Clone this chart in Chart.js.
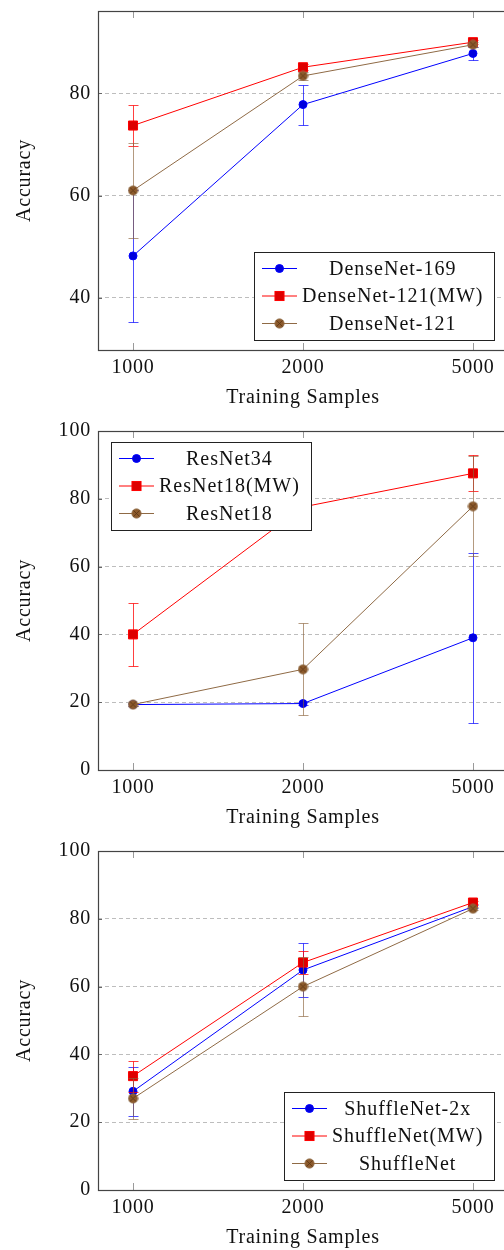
<!DOCTYPE html>
<html>
<head>
<meta charset="utf-8">
<script src="https://cdn.jsdelivr.net/npm/chart.js@4.4.1/dist/chart.umd.min.js"></script>
<style>
	body { margin: 0; background: #fff; overflow: hidden; }
	.wrap { width: 504px; height: 420px; overflow: hidden; }
	canvas { display: block; }
</style>
</head>
<body>
<div class="wrap"><canvas id="dense" width="520" height="420"></canvas></div>
<div class="wrap"><canvas id="resnet" width="520" height="420"></canvas></div>
<div class="wrap"><canvas id="shuffle" width="520" height="420"></canvas></div>
<script>
// training samples on the x axis
const samples = ['1000', '2000', '5000']

// DenseNet panel
const denseNet169 = [48.2, 77.8, 87.8]
const denseNet169Err = [12.9, 3.9, 1.3]
const denseNet121MW = [73.7, 85.1, 90.0]
const denseNet121MWErr = [4.1, 0.6, 0.4]
const denseNet121 = [61.0, 83.4, 89.5]
const denseNet121Err = [9.2, 0.8, 0.5]
const denseTicks = [40, 60, 80]

// ResNet panel
const resNet34 = [19.3, 19.6, 39.0]
const resNet34Err = [0.5, 0.5, 25.1]
const resNet18MW = [40.0, 77.6, 87.5]
const resNet18MWErr = [9.2, 3.0, 5.3]
const resNet18 = [19.3, 29.7, 77.8]
const resNet18Err = [0.5, 13.6, 14.7]
const resTicks = [0, 20, 40, 60, 80, 100]

// ShuffleNet panel
const shuffleNet2x = [29.1, 64.9, 83.6]
const shuffleNet2xErr = [7.2, 8.1, 0.5]
const shuffleNetMW = [33.6, 67.1, 84.8]
const shuffleNetMWErr = [4.6, 3.3, 0.5]
const shuffleNet = [27.0, 60.0, 83.0]
const shuffleNetErr = [6.1, 8.8, 0.5]
const shuffleTicks = [0, 20, 40, 60, 80, 100]

const FONT = '"Liberation Serif", "DejaVu Serif", serif'

// brown circle with a cross, like pgfplots otimes
function otimesMark(fill, edge, cross) {
	const c = document.createElement('canvas')
	c.width = 11
	c.height = 11
	const g = c.getContext('2d')
	g.beginPath()
	g.arc(5.5, 5.5, 4.6, 0, Math.PI * 2)
	g.fillStyle = fill
	g.fill()
	g.strokeStyle = edge
	g.lineWidth = 1
	g.stroke()
	const d = 4.4 * Math.SQRT1_2
	g.beginPath()
	g.moveTo(5.5 - d, 5.5 - d)
	g.lineTo(5.5 + d, 5.5 + d)
	g.moveTo(5.5 + d, 5.5 - d)
	g.lineTo(5.5 - d, 5.5 + d)
	g.strokeStyle = cross
	g.lineWidth = 0.8
	g.stroke()
	return c
}

const blue = { line: '#0000ff', fill: '#0000dd', err: 'rgba(0,0,255,0.7)', point: 'circle', radius: 4 }
const red = { line: '#ff0000', fill: '#dd0000', err: 'rgba(255,0,0,0.75)', point: 'rect', radius: 6.4 }
const brown = { line: '#8f6a45', fill: '#8c5a2b', err: 'rgba(140,100,60,0.65)', point: otimesMark('#8c5a2b', '#8f6a45', '#5a3515'), radius: 5 }

// computer modern runs wider than the installed serif
const spacing = {
	id: 'spacing',
	beforeDraw(chart) {
		chart.ctx.letterSpacing = '0.8px'
	},
}

const errorBars = {
	id: 'errorBars',
	beforeDatasetDraw(chart, args) {
		const ds = chart.data.datasets[args.index]
		const y = chart.scales.y
		const ctx = chart.ctx
		ctx.save()
		ctx.strokeStyle = ds.errColor
		ctx.lineWidth = 1
		args.meta.data.forEach((pt, i) => {
			const v = ds.data[i].y
			const e = ds.err[i]
			const x = Math.round(pt.x) + 0.5
			const top = Math.round(y.getPixelForValue(v + e)) + 0.5
			const bot = Math.round(y.getPixelForValue(v - e)) + 0.5
			ctx.beginPath()
			ctx.moveTo(x, top)
			ctx.lineTo(x, bot)
			ctx.moveTo(x - 5, top)
			ctx.lineTo(x + 5, top)
			ctx.moveTo(x - 5, bot)
			ctx.lineTo(x + 5, bot)
			ctx.stroke()
		})
		ctx.restore()
	},
}

// axis box and inward tick marks
const frame = {
	id: 'frame',
	beforeDatasetsDraw(chart) {
		const ctx = chart.ctx
		const a = chart.chartArea
		ctx.save()
		ctx.lineWidth = 1
		ctx.strokeStyle = '#9a9a9a'
		chart.scales.x.ticks.forEach(t => {
			const x = Math.round(chart.scales.x.getPixelForValue(t.value)) + 0.5
			ctx.beginPath()
			ctx.moveTo(x, a.top)
			ctx.lineTo(x, a.top + 7)
			ctx.moveTo(x, a.bottom)
			ctx.lineTo(x, a.bottom - 7)
			ctx.stroke()
		})
		ctx.strokeStyle = '#666'
		chart.scales.y.ticks.forEach(t => {
			const y = Math.round(chart.scales.y.getPixelForValue(t.value)) + 0.5
			ctx.beginPath()
			ctx.moveTo(a.left, y)
			ctx.lineTo(a.left + 4, y)
			ctx.moveTo(a.right, y)
			ctx.lineTo(a.right - 4, y)
			ctx.stroke()
		})
		ctx.restore()
	},
	afterDraw(chart) {
		const ctx = chart.ctx
		const a = chart.chartArea
		ctx.save()
		ctx.strokeStyle = '#444'
		ctx.lineWidth = 1.2
		ctx.strokeRect(Math.round(a.left) + 0.5, Math.round(a.top) + 0.5, Math.round(a.right - a.left), Math.round(a.bottom - a.top))
		ctx.restore()
	},
}

function drawMarker(ctx, ds, x, y) {
	const p = ds.pointStyle
	if (p === 'circle') {
		ctx.beginPath()
		ctx.arc(x, y, ds.pointRadius, 0, Math.PI * 2)
		ctx.fillStyle = ds.pointBackgroundColor
		ctx.fill()
		ctx.strokeStyle = ds.pointBorderColor
		ctx.stroke()
	} else if (p === 'rect') {
		const s = ds.pointRadius * Math.SQRT1_2
		ctx.fillStyle = ds.pointBackgroundColor
		ctx.fillRect(x - s, y - s, 2 * s, 2 * s)
		ctx.strokeStyle = ds.pointBorderColor
		ctx.strokeRect(x - s, y - s, 2 * s, 2 * s)
	} else {
		ctx.drawImage(p, x - p.width / 2, y - p.height / 2)
	}
}

// boxed legend with the text centred, pgfplots style
const boxLegend = {
	id: 'boxLegend',
	afterDraw(chart, args, opts) {
		const ctx = chart.ctx
		const a = chart.chartArea
		const sets = chart.data.datasets
		ctx.save()
		ctx.font = '20px ' + FONT
		ctx.letterSpacing = '1px'
		const textW = Math.max(...sets.map(d => ctx.measureText(d.label).width))
		const rowH = 27.5
		const w = Math.round(48 + textW + 11)
		const h = Math.round(rowH * sets.length + 5)
		const left = Math.round(opts.corner === 'topLeft' ? a.left + 13 : a.right - 14 - w)
		const top = Math.round(opts.corner === 'topLeft' ? a.top + 11 : a.bottom - 10 - h)
		ctx.fillStyle = '#fff'
		ctx.fillRect(left, top, w, h)
		ctx.strokeStyle = '#222'
		ctx.lineWidth = 1
		ctx.strokeRect(left + 0.5, top + 0.5, w, h)
		sets.forEach((d, i) => {
			const cy = top + 16.5 + i * rowH
			ctx.strokeStyle = d.borderColor
			ctx.beginPath()
			ctx.moveTo(left + 8, cy)
			ctx.lineTo(left + 43, cy)
			ctx.stroke()
			drawMarker(ctx, d, left + 25.5, cy)
			ctx.fillStyle = '#111'
			ctx.textAlign = 'center'
			ctx.textBaseline = 'middle'
			ctx.fillText(d.label, left + 48 + textW / 2, cy + 1)
		})
		ctx.restore()
	},
}

function series(label, values, err, style, i) {
	return {
		label: label,
		data: values.map((v, j) => ({ x: j, y: v })),
		err: err,
		errColor: style.err,
		borderColor: style.line,
		backgroundColor: style.fill,
		borderWidth: 1,
		pointStyle: style.point,
		pointRadius: style.radius,
		pointBackgroundColor: style.fill,
		pointBorderColor: style.line,
		pointBorderWidth: 1,
		tension: 0,
		order: 3 - i,
	}
}

function makeChart(id, datasets, yMin, yMax, yTicks, corner) {
	return new Chart(document.getElementById(id), {
		type: 'line',
		data: { datasets: datasets },
		options: {
			responsive: false,
			animation: false,
			layout: { padding: { top: 11, right: 12, left: 0, bottom: 0 } },
			plugins: {
				legend: { display: false },
				tooltip: { enabled: false },
				boxLegend: { corner: corner },
			},
			scales: {
				x: {
					type: 'linear',
					min: -0.206,
					max: 2.206,
					afterBuildTicks: s => { s.ticks = samples.map((_, i) => ({ value: i })) },
					afterFit: s => {
						s.height = 70
						s.paddingLeft = 0
						s.paddingRight = 0
					},
					ticks: {
						callback: v => samples[v],
						color: '#111',
						font: { family: FONT, size: 20 },
						padding: -2,
						maxRotation: 0,
					},
					grid: { display: false },
					border: { display: false },
					title: {
						display: true,
						text: 'Training Samples',
						color: '#111',
						font: { family: FONT, size: 20 },
						padding: { top: 0, bottom: 10 },
					},
				},
				y: {
					min: yMin,
					max: yMax,
					afterBuildTicks: s => { s.ticks = yTicks.map(v => ({ value: v })) },
					afterFit: s => {
						s.width = 98
						s.paddingTop = 0
						s.paddingBottom = 0
					},
					ticks: {
						color: '#111',
						font: { family: FONT, size: 20 },
						padding: 7,
					},
					grid: { color: '#bdbdbd', drawTicks: false, lineWidth: 1 },
					border: { display: false, dash: [4, 3] },
					title: {
						display: true,
						text: 'Accuracy',
						color: '#111',
						font: { family: FONT, size: 20 },
						padding: { top: 13, bottom: 0 },
					},
				},
			},
		},
		plugins: [spacing, frame, errorBars, boxLegend],
	})
}

makeChart('dense', [
	series('DenseNet-169', denseNet169, denseNet169Err, blue, 0),
	series('DenseNet-121(MW)', denseNet121MW, denseNet121MWErr, red, 1),
	series('DenseNet-121', denseNet121, denseNet121Err, brown, 2),
], 29.8, 96.1, denseTicks, 'bottomRight')

makeChart('resnet', [
	series('ResNet34', resNet34, resNet34Err, blue, 0),
	series('ResNet18(MW)', resNet18MW, resNet18MWErr, red, 1),
	series('ResNet18', resNet18, resNet18Err, brown, 2),
], 0, 100, resTicks, 'topLeft')

makeChart('shuffle', [
	series('ShuffleNet-2x', shuffleNet2x, shuffleNet2xErr, blue, 0),
	series('ShuffleNet(MW)', shuffleNetMW, shuffleNetMWErr, red, 1),
	series('ShuffleNet', shuffleNet, shuffleNetErr, brown, 2),
], 0, 100, shuffleTicks, 'bottomRight')
</script>
</body>
</html>
